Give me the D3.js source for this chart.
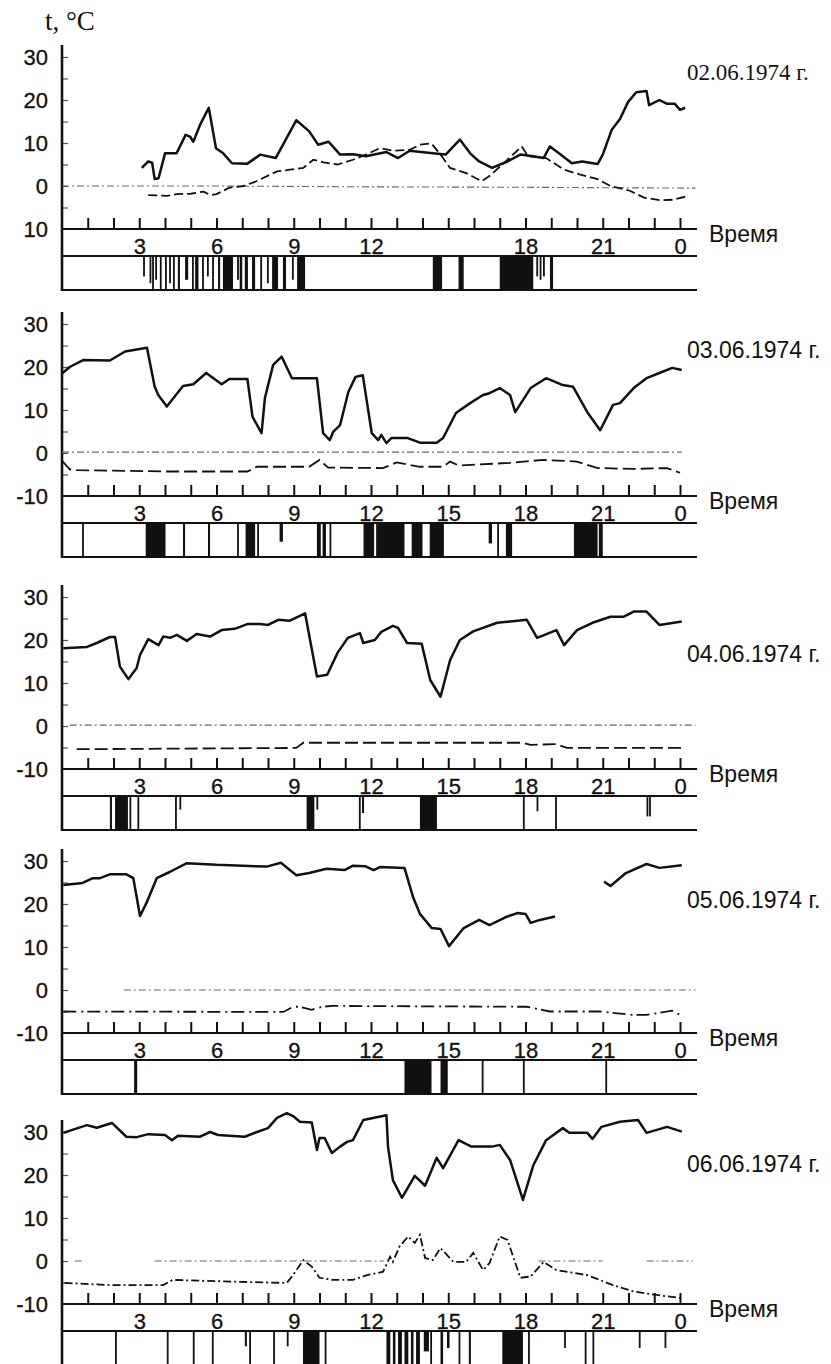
<!DOCTYPE html>
<html>
<head>
<meta charset="utf-8">
<script src="https://cdn.jsdelivr.net/npm/d3@7"></script>
<style>
  body { margin: 0; background: #fff; }
  svg { display: block; }
</style>
</head>
<body>
<svg id="chart"></svg>
<script>
// ---- data (hours 0..24, °C) ----
const dates = ["02.06.1974 г.", "03.06.1974 г.", "04.06.1974 г.", "05.06.1974 г.", "06.06.1974 г."];
const hourTicks = d3.range(1, 25);
const hourLabels = [
  [3, 6, 9, 12, 18, 21, 24],
  [3, 6, 9, 12, 15, 18, 21, 24],
  [3, 6, 9, 12, 15, 18, 21, 24],
  [3, 6, 9, 12, 15, 18, 21, 24],
  [3, 6, 9, 12, 15, 18, 21, 24]
];
const yTickValues = [30, 20, 10, 0, -10];
const yTickLabels = [
  ["30", "20", "10", "0", "10"],
  ["30", "20", "10", "0", "-10"],
  ["30", "20", "10", "0", "-10"],
  ["30", "20", "10", "0", "-10"],
  ["30", "20", "10", "0", "-10"]
];

// solid curve
const solidSeries = [
  [[3.1,4.2],[3.35,5.7],[3.5,5.4],[3.6,1.6],[3.75,1.8],[4.0,7.6],[4.45,7.6],[4.8,11.9],[4.97,11.5],[5.1,10.3],[5.36,14.2],[5.7,18.2],[5.98,8.8],[6.26,7.6],[6.6,5.3],[7.2,5.2],[7.7,7.3],[8.3,6.5],[9.1,15.3],[9.6,12.7],[9.95,9.6],[10.35,10.3],[10.8,7.3],[11.3,7.4],[11.8,6.9],[12.6,7.9],[13.05,6.5],[13.5,8.2],[14.4,7.6],[14.9,7.3],[15.45,10.8],[15.85,7.6],[16.2,5.7],[16.7,4.2],[17.3,5.7],[17.8,7.3],[18.3,6.9],[18.7,6.5],[18.95,9.2],[19.3,7.6],[19.8,5.3],[20.2,5.7],[20.8,5.1],[21.0,7.3],[21.35,13.1],[21.67,15.6],[21.98,19.5],[22.3,21.8],[22.7,22.1],[22.8,18.8],[23.2,20.0],[23.5,19.1],[23.8,19.1],[24.0,17.7],[24.2,18.2]],
  [[0,18.5],[0.3,20],[0.82,21.6],[1.86,21.5],[2.45,23.6],[3.3,24.5],[3.6,15.4],[3.74,13.5],[4.07,10.8],[4.7,15.6],[5.1,16.0],[5.6,18.6],[6.2,16.0],[6.5,17.2],[7.2,17.2],[7.4,8.4],[7.75,4.6],[7.88,12.8],[8.2,20.5],[8.53,22.4],[8.93,17.4],[9.9,17.4],[10.14,4.6],[10.4,3.0],[10.53,4.9],[10.8,6.5],[11.12,14.2],[11.4,17.7],[11.68,18.1],[12.03,4.6],[12.28,3.0],[12.4,4.2],[12.6,2.3],[12.8,3.5],[13.4,3.5],[13.9,2.4],[14.55,2.4],[14.8,3.5],[15.3,9.3],[15.85,11.6],[16.35,13.5],[16.6,13.9],[17.0,15.1],[17.4,13.5],[17.6,9.5],[18.2,15.1],[18.8,17.4],[19.45,15.8],[19.85,15.4],[20.4,9.5],[20.9,5.3],[21.4,11.2],[21.67,11.6],[22.2,15.1],[22.7,17.4],[23.2,18.6],[23.7,19.8],[24.07,19.3]],
  [[0.05,18.1],[0.97,18.4],[1.35,19.3],[1.86,20.7],[2.06,20.7],[2.25,13.8],[2.58,10.9],[2.9,13.5],[3.03,16.5],[3.35,20.2],[3.75,18.8],[3.93,20.8],[4.2,20.5],[4.46,21.2],[4.85,19.8],[5.23,21.4],[5.75,20.8],[6.2,22.3],[6.7,22.6],[7.2,23.7],[7.7,23.7],[8.0,23.5],[8.4,24.7],[8.85,24.5],[9.44,26.2],[9.9,11.5],[10.3,11.9],[10.7,17],[11.1,20.5],[11.57,21.6],[11.7,19.3],[12.15,20],[12.4,21.9],[12.85,23.3],[13.05,22.8],[13.4,19.3],[13.97,19.1],[14.3,10.7],[14.7,6.8],[15.07,15.3],[15.45,20],[15.97,22],[16.9,24],[18.05,24.7],[18.45,20.5],[19.2,22.3],[19.5,18.8],[20.0,22.3],[20.6,24],[21.3,25.4],[21.8,25.4],[22.2,26.6],[22.7,26.6],[23.2,23.5],[24.07,24.3]],
  [[0.05,24.4],[0.8,24.9],[1.2,26],[1.47,26],[1.86,26.9],[2.5,26.9],[2.77,26],[3.03,17.2],[3.3,20.5],[3.68,26],[4.2,27.5],[4.85,29.5],[6.0,29.1],[7.95,28.7],[8.5,29.6],[9.1,26.7],[9.6,27.2],[10.27,28.2],[10.97,27.9],[11.3,28.9],[11.77,28.8],[12.1,27.9],[12.35,28.6],[13.3,28.4],[13.64,21.5],[13.9,17.7],[14.36,14.4],[14.7,14.2],[15.03,10.2],[15.6,14.4],[16.2,16.3],[16.6,15.1],[17.3,17.1],[17.7,17.9],[18.0,17.7],[18.2,15.6],[18.56,16.3],[19.15,17.1],[20,null],[21.05,25.2],[21.3,24.2],[21.9,27.2],[22.7,29.3],[23.2,28.4],[24.07,29]],
  [[0.05,29.8],[0.4,30.5],[0.97,31.6],[1.35,31],[1.94,32.1],[2.5,28.9],[2.9,28.8],[3.35,29.5],[4.0,29.3],[4.27,28.1],[4.5,29.1],[5.36,28.9],[5.75,30],[6.06,29.3],[7.1,28.9],[7.57,30],[8.0,30.9],[8.35,33.3],[8.73,34.4],[8.97,33.7],[9.24,32.4],[9.7,32.2],[9.9,25.8],[10.0,28.6],[10.2,28.6],[10.48,25.1],[10.8,26.6],[11.07,27.7],[11.3,28.1],[11.7,32.8],[12.6,33.9],[12.66,26.6],[12.85,18.8],[13.2,14.7],[13.7,19.8],[14.1,17.5],[14.55,24],[14.8,21.6],[15.4,28.1],[15.9,26.6],[16.7,26.6],[17.0,27],[17.4,23.5],[17.9,14.2],[18.3,22.2],[18.8,28.1],[19.45,30.9],[19.7,29.8],[20.4,29.8],[20.6,28.4],[20.95,31.2],[21.67,32.4],[22.37,32.8],[22.7,29.8],[23.5,31.2],[24.07,30.1]]
];

// dashed (lower) curve
const dashedSeries = [
  [[3.35,-2.1],[4.07,-2.3],[4.45,-1.9],[5.0,-1.8],[5.5,-1.3],[5.75,-2.1],[6.0,-1.9],[6.5,-0.4],[7.05,0],[7.55,1.1],[8.35,3.4],[8.85,3.8],[9.37,4.2],[9.76,6.1],[10.15,5.5],[10.7,5.0],[11.3,6.1],[11.8,7.3],[12.35,8.8],[12.85,8.2],[13.5,8.4],[13.9,9.6],[14.35,9.9],[14.75,6.9],[15.07,4.2],[15.7,3.0],[16.3,1.1],[16.6,2.3],[17.3,6.1],[17.85,9.2],[18.1,6.9],[18.8,6.5],[19.5,3.8],[20.1,2.7],[20.8,1.6],[21.3,0],[22.05,-1.1],[22.6,-2.7],[23.2,-3.3],[23.7,-3.2],[24.2,-2.5]],
  [[0,-1.8],[0.3,-3.8],[0.6,-4.0],[1.86,-4.1],[4.07,-4.3],[7.2,-4.3],[7.57,-3.2],[9.6,-3.2],[10.0,-1.6],[10.34,-3.4],[12.47,-3.5],[13.0,-2.2],[13.9,-3.2],[14.8,-3.2],[15.07,-2.0],[15.4,-2.9],[17.4,-2.3],[18.7,-1.6],[20.0,-2.0],[20.8,-3.5],[22.2,-3.7],[23.5,-3.5],[24,-4.6]],
  [[0.57,-5.4],[9.1,-5.1],[9.37,-3.9],[17.9,-3.9],[18.2,-4.4],[19.2,-4.2],[19.6,-5.1],[24.07,-5.1]],
  [[0.05,-5],[8.6,-5.1],[8.97,-3.9],[9.2,-3.9],[9.7,-4.6],[10.1,-3.9],[10.5,-3.7],[18.05,-3.9],[18.95,-5],[20.9,-5],[22.2,-5.8],[22.7,-5.8],[23.7,-4.8],[24.07,-6]],
  [[0.1,-5.1],[1.86,-5.6],[3.93,-5.6],[4.3,-4.4],[6.65,-4.8],[8.73,-5.1],[8.97,-3.3],[9.37,0.2],[9.7,-1.3],[10.0,-3.9],[10.5,-4.4],[11.3,-4.4],[11.84,-3.3],[12.47,-2.5],[12.74,1],[12.85,-0.2],[13.1,3.3],[13.44,5.7],[13.7,4.2],[13.9,6.1],[14.1,0.7],[14.4,0.2],[14.7,3.0],[15.2,-0.2],[15.7,-0.2],[15.97,1.9],[16.35,-2.1],[16.6,-0.5],[17.0,5.7],[17.3,4.9],[17.8,-3.9],[18.2,-3.6],[18.7,-0.2],[19.2,-2.1],[20.4,-3.3],[21.4,-5.6],[22.2,-7.1],[23.1,-7.9],[24.0,-8.6]]
];

// faint dash-dot line near 0
const zeroSeries = [
  [[0,0],[6,0],[12,-0.2],[18,-0.3],[24.6,-0.5]],
  [[0,0.2],[24.07,0.2]],
  [[0.3,0.2],[24.6,0.2]],
  [[2.4,0],[24.6,0]],
  [[0.5,0],[0.9,0],[1,null],[3.6,0],[12.5,0],[13,null],[18.5,0],[21,0],[21.5,null],[22.7,0],[24.5,0]]
];

// black marks in the lower strip: [from hour, to hour, share of strip height]
const stripBars = [
  [[3.15,3.22,0.6],[3.4,3.44,0.8],[3.5,3.55,1],[3.62,3.66,0.7],[3.8,3.86,1],[4.0,4.03,1],[4.16,4.2,0.8],[4.31,4.35,1],[4.5,4.58,1],[4.78,4.9,0.7],[5.05,5.09,1],[5.17,5.3,1],[5.44,5.48,1],[5.63,5.68,0.6],[5.83,5.87,1],[6.06,6.14,1],[6.25,6.64,1],[6.8,6.84,0.7],[6.9,7.0,1],[7.1,7.22,1],[7.38,7.5,1],[7.7,7.77,1],[7.96,8.0,0.8],[8.16,8.39,1],[8.58,8.7,1],[8.93,8.97,0.7],[9.13,9.44,1],[14.4,14.76,1],[15.4,15.6,1],[17.0,18.3,1],[18.42,18.46,0.6],[18.55,18.58,0.7],[18.68,18.72,0.6],[18.95,19.07,1]],
  [[0.78,0.85,1],[3.25,4.02,1],[4.7,4.78,1],[5.67,5.75,1],[6.8,6.86,1],[7.13,7.5,1],[7.58,7.65,1],[8.45,8.58,0.55],[9.9,10.05,1],[10.12,10.25,1],[10.39,10.46,1],[11.71,12.12,1],[12.2,13.3,1],[13.58,14.0,1],[14.28,14.83,1],[16.57,16.7,0.6],[16.9,16.97,1],[17.24,17.48,1],[19.88,20.8,1],[20.85,21.0,1]],
  [[1.86,1.94,1],[2.06,2.56,1],[2.62,2.67,1],[2.93,2.98,1],[4.39,4.45,1],[4.56,4.6,0.4],[9.5,9.8,1],[9.88,9.93,0.4],[11.53,11.58,1],[11.65,11.73,0.5],[13.9,14.56,1],[17.9,17.97,1],[18.43,18.48,0.45],[19.15,19.22,1],[22.7,22.75,0.6],[22.8,22.85,0.6]],
  [[2.8,2.92,1],[13.3,14.35,1],[14.7,14.98,1],[16.3,16.36,1],[17.9,17.96,1],[21.1,21.16,1]],
  [[2.06,2.12,1],[4.07,4.13,1],[5.08,5.14,1],[5.82,5.88,1],[7.1,7.18,0.45],[7.27,7.33,1],[8.2,8.26,1],[8.73,8.8,0.45],[9.36,10.0,1],[10.2,10.26,1],[12.6,12.75,1],[12.85,12.95,1],[13.05,13.2,1],[13.3,13.45,1],[13.55,13.65,1],[13.75,13.9,1],[14.05,14.25,0.6],[14.3,14.36,1],[14.7,14.8,1],[14.95,15.05,0.5],[15.4,15.46,1],[15.8,15.88,1],[17.1,17.9,1],[18.1,18.16,1],[19.5,19.56,0.5],[20.3,20.36,1],[20.6,20.66,1],[22.4,22.46,0.5],[23.4,23.46,0.5]]
];

// ---- layout ----
const W = 831, H = 1364;
const serif = "'Liberation Serif', 'Times New Roman', serif";
const sans = "'Liberation Sans', Arial, sans-serif";
const panels = [
  { axisY: 229, dateY: 80, dateFont: serif, dateSize: 23 },
  { axisY: 496, dateY: 358, dateFont: sans, dateSize: 23 },
  { axisY: 769, dateY: 662, dateFont: sans, dateSize: 23 },
  { axisY: 1033, dateY: 908, dateFont: sans, dateSize: 23 },
  { axisY: 1304, dateY: 1172, dateFont: sans, dateSize: 23 }
];
const ink = "#111";
const lowerDash = ["9,4", "13,5", "13,5", "13,5,2,4", "8,3,2,3"];

const svg = d3.select("#chart").attr("width", W).attr("height", H);
svg.append("rect").attr("width", W).attr("height", H).attr("fill", "#fff");

const x = d3.scaleLinear().domain([0, 24]).range([62, 680]);
const xEnd = 697;

svg.append("text")
  .attr("x", 45).attr("y", 30)
  .attr("font-family", serif)
  .attr("font-size", 27).attr("fill", ink)
  .text("t, °C");

panels.forEach((p, i) => {
  const y = d3.scaleLinear().domain([-10, 30]).range([p.axisY, p.axisY - 172]);
  const stripTop = p.axisY + 27, stripBot = p.axisY + 61;
  const g = svg.append("g");

  // strip marks
  g.selectAll("rect.bar")
    .data(stripBars[i])
    .join("rect")
    .attr("class", "bar")
    .attr("x", d => x(d[0]))
    .attr("width", d => Math.max(1.8, x(d[1]) - x(d[0])))
    .attr("y", stripTop)
    .attr("height", d => d[2] * (stripBot - stripTop))
    .attr("fill", ink);

  // horizontal rules
  [p.axisY, stripTop, stripBot].forEach(yy => {
    g.append("line")
      .attr("x1", 62).attr("x2", xEnd)
      .attr("y1", yy).attr("y2", yy)
      .attr("stroke", ink).attr("stroke-width", 2.2);
  });

  // hourly ticks
  const tickAxis = g.append("g")
    .attr("transform", `translate(0,${p.axisY})`)
    .call(d3.axisTop(x).tickValues(hourTicks).tickSize(11).tickFormat(""));
  tickAxis.select(".domain").remove();
  tickAxis.selectAll("line").attr("stroke", ink).attr("stroke-width", 2);

  // hour labels
  const labAxis = g.append("g")
    .attr("transform", `translate(0,${p.axisY})`)
    .call(d3.axisBottom(x).tickValues(hourLabels[i]).tickSize(0).tickPadding(9).tickFormat(d => d % 24));
  labAxis.select(".domain").remove();
  labAxis.selectAll("text")
    .attr("font-family", sans).attr("font-size", 22).attr("fill", ink)
    .attr("stroke", ink).attr("stroke-width", 0.3);

  // y axis: small ticks every 5 degrees
  const yMinor = g.append("g")
    .attr("transform", "translate(62,0)")
    .call(d3.axisRight(y).tickValues(d3.range(-5, 31, 5)).tickSize(6).tickFormat(""));
  yMinor.select(".domain").remove();
  yMinor.selectAll("line").attr("stroke", "#555").attr("stroke-width", 1.2);

  // y labels
  const yLab = g.append("g")
    .attr("transform", "translate(62,0)")
    .call(d3.axisLeft(y).tickValues(yTickValues).tickSize(0).tickPadding(14)
      .tickFormat((d, k) => yTickLabels[i][k]));
  yLab.select(".domain").remove();
  yLab.selectAll("text")
    .attr("font-family", sans).attr("font-size", 22).attr("fill", ink)
    .attr("stroke", ink).attr("stroke-width", 0.3);

  // y axis line
  g.append("line")
    .attr("x1", 62).attr("x2", 62)
    .attr("y1", p.axisY - 184).attr("y2", stripBot + 1)
    .attr("stroke", ink).attr("stroke-width", 2.6);

  const line = d3.line()
    .defined(d => d[1] != null)
    .x(d => x(d[0]))
    .y(d => y(d[1]));

  g.append("path")
    .attr("d", line(zeroSeries[i]))
    .attr("fill", "none").attr("stroke", "#666")
    .attr("stroke-width", 1.1).attr("stroke-dasharray", "7,3,2,3");

  g.append("path")
    .attr("d", line(dashedSeries[i]))
    .attr("fill", "none").attr("stroke", ink)
    .attr("stroke-width", 1.8).attr("stroke-dasharray", lowerDash[i]);

  g.append("path")
    .attr("d", line(solidSeries[i]))
    .attr("fill", "none").attr("stroke", ink)
    .attr("stroke-width", 2.5).attr("stroke-linejoin", "round");

  // labels
  g.append("text")
    .attr("x", 687).attr("y", p.dateY)
    .attr("font-family", p.dateFont).attr("font-size", p.dateSize).attr("fill", ink)
    .text(dates[i]);

  g.append("text")
    .attr("x", 709).attr("y", p.axisY + 13)
    .attr("font-family", sans).attr("font-size", 23).attr("fill", ink)
    .text("Время");
});
</script>
</body>
</html>
